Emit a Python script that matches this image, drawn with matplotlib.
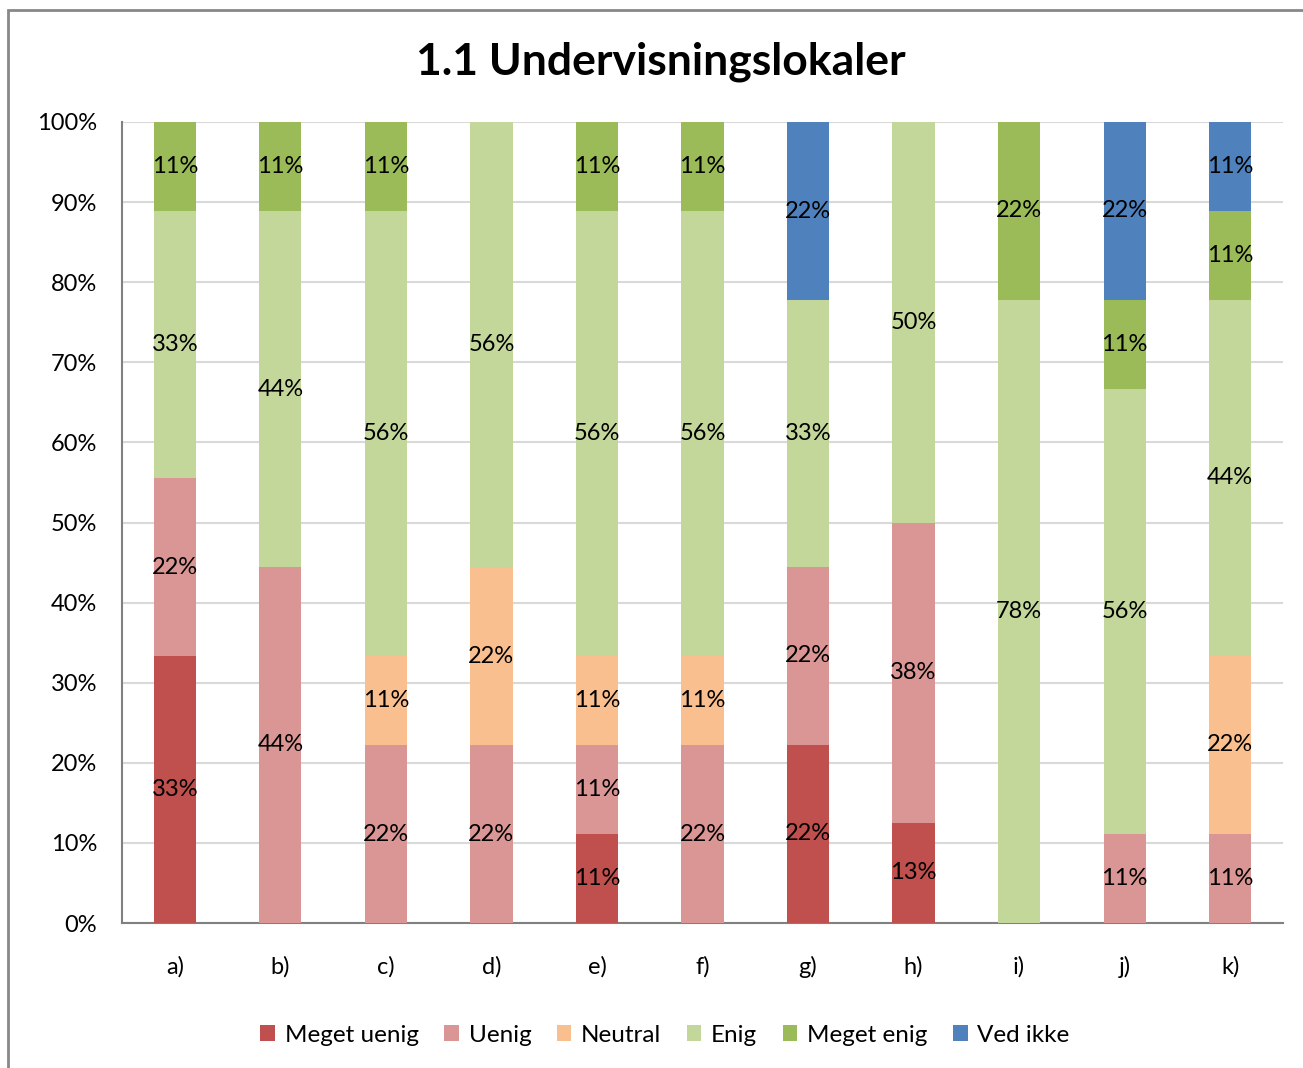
import numpy as np
import matplotlib
matplotlib.use('Agg')
import matplotlib.pyplot as plt
from matplotlib.patches import Rectangle

plt.rcParams['font.family'] = ['Lato', 'DejaVu Sans']

categories = ['a)', 'b)', 'c)', 'd)', 'e)', 'f)', 'g)', 'h)', 'i)', 'j)', 'k)']
series = ['Meget uenig', 'Uenig', 'Neutral', 'Enig', 'Meget enig', 'Ved ikke']
colors = ['#C0504D', '#DA9694', '#FABF8F', '#C4D79B', '#9BBB59', '#4F81BD']

meget_uenig = [33.3, 0, 0, 0, 11.1, 0, 22.2, 12.5, 0, 0, 0]
uenig = [22.2, 44.4, 22.2, 22.2, 11.1, 22.2, 22.2, 37.5, 0, 11.1, 11.1]
neutral = [0, 0, 11.1, 22.2, 11.1, 11.1, 0, 0, 0, 0, 22.2]
enig = [33.3, 44.4, 55.6, 55.6, 55.6, 55.6, 33.3, 50.0, 77.8, 55.6, 44.4]
meget_enig = [11.1, 11.1, 11.1, 0, 11.1, 11.1, 0, 0, 22.2, 11.1, 11.1]
ved_ikke = [0, 0, 0, 0, 0, 0, 22.2, 0, 0, 22.2, 11.1]

data = np.array([meget_uenig, uenig, neutral, enig, meget_enig, ved_ikke])
data = data / data.sum(axis=0) * 100

fig = plt.figure(figsize=(13.03, 10.68), dpi=100)
ax = fig.add_axes([122 / 1303, 1 - 923 / 1068, (1283 - 122) / 1303, (923 - 122) / 1068])

x = np.arange(len(categories))
bottom = np.zeros(len(categories))
for vals, name, col in zip(data, series, colors):
    ax.bar(x, vals, 0.4, bottom=bottom, color=col, label=name, zorder=3)
    for xi, b, v in zip(x, bottom, vals):
        if v > 0:
            # Excel rounds half up (12.5 -> 13)
            ax.text(xi, b + v / 2, f'{int(np.floor(v + 0.5))}%', ha='center',
                    va='center', fontsize=17, zorder=4)
    bottom += vals

ax.set_xlim(-0.5, len(categories) - 0.5)
ax.set_ylim(0, 100)
ax.set_yticks(np.arange(0, 101, 10))
ax.set_yticklabels([f'{t}%' for t in range(0, 101, 10)], fontsize=17)
ax.set_xticks(x)
ax.set_xticklabels(categories, fontsize=17)
ax.tick_params(length=0)
ax.tick_params(axis='y', pad=18)
ax.tick_params(axis='x', pad=24)
ax.grid(axis='y', color='#D9D9D9', linewidth=1.5, zorder=0)
for s in ['top', 'right']:
    ax.spines[s].set_visible(False)
for s in ['left', 'bottom']:
    ax.spines[s].set_color('#808080')
    ax.spines[s].set_linewidth(1.5)

fig.text(661 / 1303, 1 - 62 / 1068, '1.1 Undervisningslokaler', ha='center',
         va='center', fontsize=32, fontweight='bold')

fig.legend(loc='center', bbox_to_anchor=(665 / 1303, 1 - 1035 / 1068), ncol=6,
           frameon=False, fontsize=17.5, handlelength=0.6, handleheight=0.6,
           handletextpad=0.4, columnspacing=1.05)

fig.patches.append(Rectangle((8 / 1303, -0.1), 1.2, 1 - 10 / 1068 + 0.1,
                             transform=fig.transFigure, fill=False,
                             edgecolor='#888888', linewidth=2))

fig.savefig('out.png', dpi=100)
